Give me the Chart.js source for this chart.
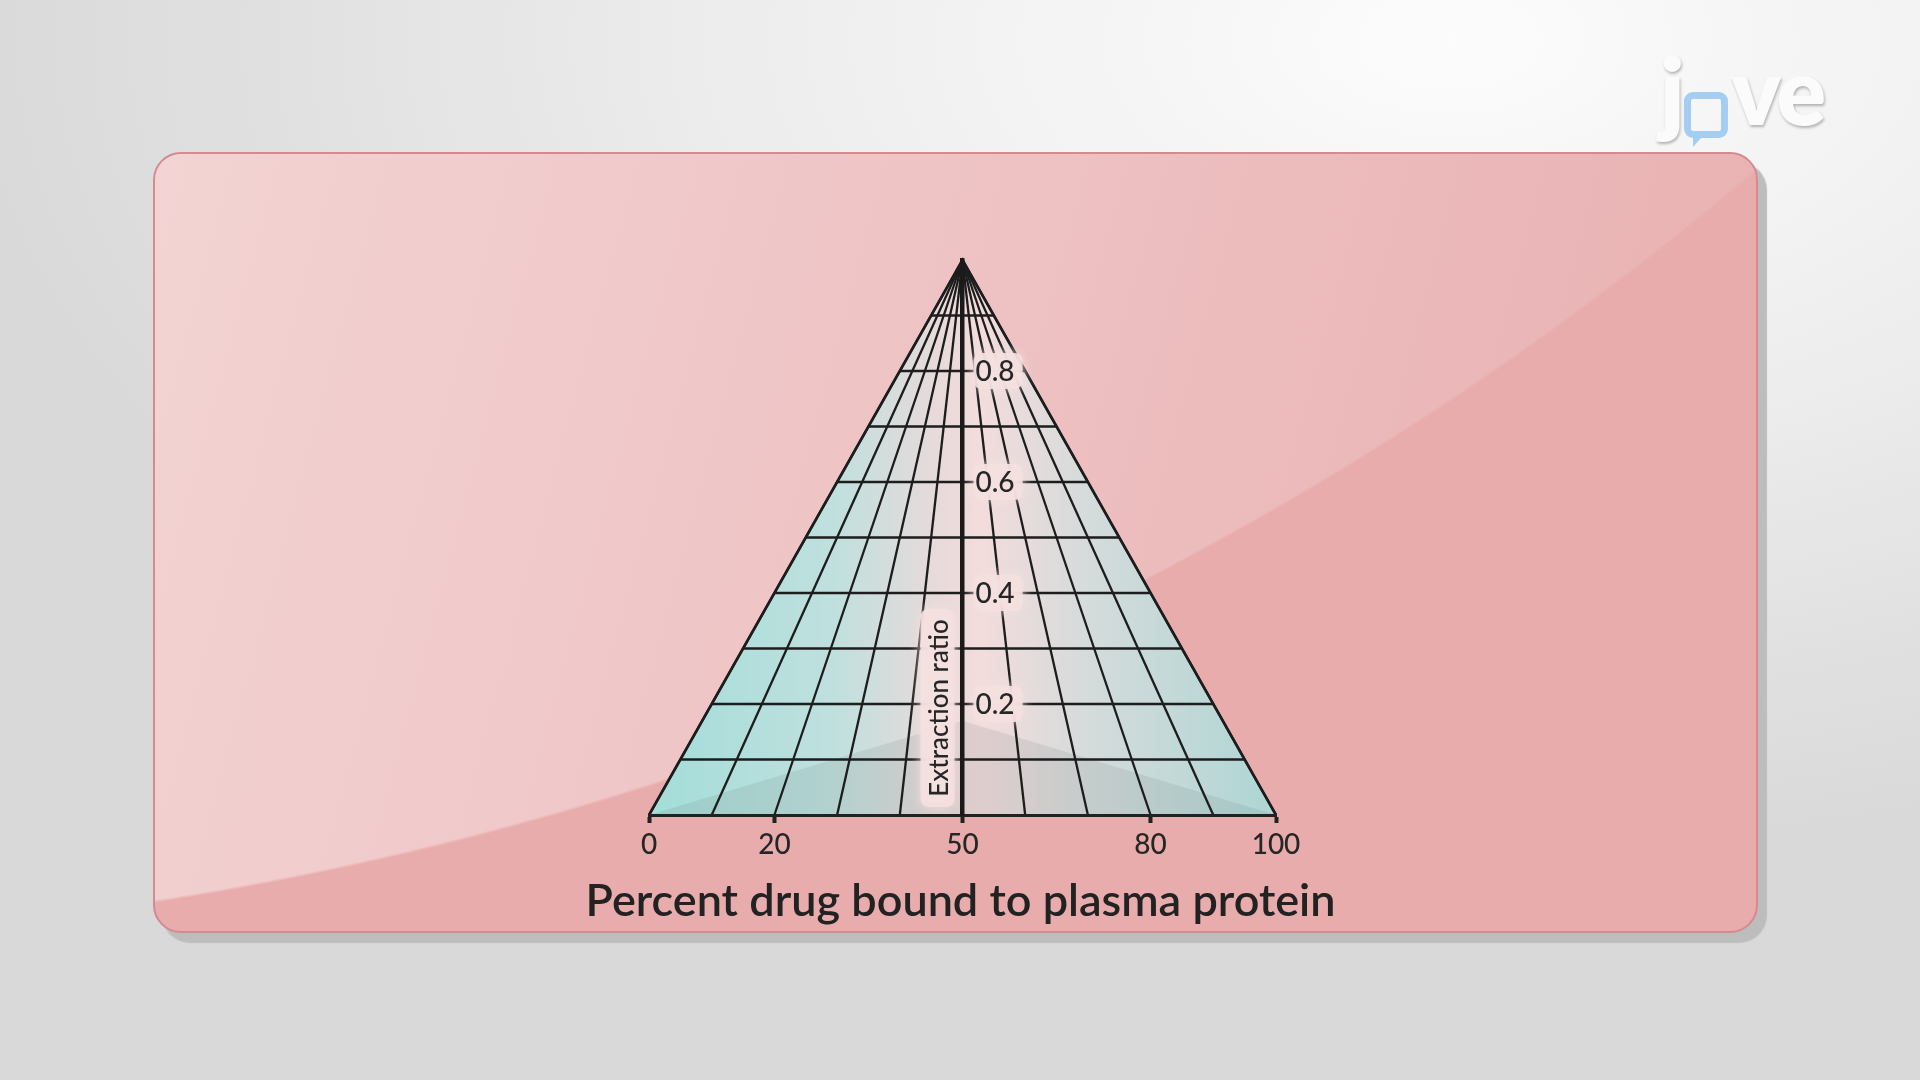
<!DOCTYPE html>
<html>
<head>
<meta charset="utf-8">
<title>Extraction ratio nomogram</title>
<script src="https://cdn.jsdelivr.net/npm/chart.js@4.4.1/dist/chart.umd.min.js"></script>
<style>
  html, body { margin: 0; padding: 0; }
  body {
    width: 1920px; height: 1080px; overflow: hidden; position: relative;
    background: radial-gradient(ellipse 1500px 820px at 1450px 40px, #fcfcfc 0%, #eeeeee 45%, #e0e0e0 80%, #d9d9d9 100%);
    font-family: Lato, sans-serif;
  }
  .card {
    position: absolute; left: 153px; top: 152px; width: 1601px; height: 777px;
    border: 2px solid #d38b8f; border-radius: 28px;
    background: #e8acac;
    box-shadow: 9px 10px 1px #bdbdbd;
    overflow: hidden;
  }
  .card::before {
    content: ''; position: absolute; inset: 0;
    background: linear-gradient(105deg, #f3d3d3 0%, #efc5c6 40%, #ebb7b8 75%, #e9b0b0 100%);
    -webkit-mask-image: radial-gradient(circle 3225px at -488px -2439px, #000 99.9%, transparent 100%);
  }
  .logo {
    position: absolute; left: 1660px; top: 34px;
    font: 800 92px Lato, sans-serif; color: #fbfbfb;
    text-shadow: 1px 2px 3px rgba(0,0,0,0.28); letter-spacing: -3px;
  }
  .logo .o {
    display: inline-block; position: relative; width: 30px; height: 32px; margin: 0 4px 0 2px;
    border: 7px solid #a4cdf1; border-radius: 9px; color: transparent; text-shadow: none;
    font-size: 30px; line-height: 32px; vertical-align: -2px;
  }
  .logo .o::after {
    content: ''; position: absolute; left: 2px; bottom: -16px;
    border-left: 9px solid #a4cdf1; border-bottom: 10px solid transparent;
  }
  canvas { position: absolute; left: 0; top: 0; }
</style>
</head>
<body>
<div class="card"></div>
<div class="logo">j<span class="o">o</span>ve</div>
<canvas id="nomogram" width="1920" height="1080"></canvas>
<script>
// ---- data ----
const axisTicks = [0, 20, 50, 80, 100];              // percent bound labels on the base
const baseLines = [0, 10, 20, 30, 40, 60, 70, 80, 90, 100]; // radial lines from the base
const ratioLevels = [0.1, 0.2, 0.3, 0.4, 0.5, 0.6, 0.7, 0.8, 0.9];
const ratioTicks = [0.2, 0.4, 0.6, 0.8];
const apexPoint = { x: 50, y: 1 };
const shadeTop = 0.17;
const xTitle = 'Percent drug bound to plasma protein';
const yTitle = 'Extraction ratio';

// triangle edges at a given extraction ratio level
function edgeAt(level) {
    return [{ x: 50 * level, y: level }, { x: 100 - 50 * level, y: level }];
}

const LINE = '#1d1d1d';

function triangleGradient(context) {
    const { chart } = context;
    const area = chart.chartArea;
    if (!area) return null;
    const g = chart.ctx.createLinearGradient(area.left, 0, area.right, 0);
    g.addColorStop(0, '#a3ddd9');
    g.addColorStop(0.3, '#c0e0de');
    g.addColorStop(0.46, '#e8dada');
    g.addColorStop(0.53, '#f3dcdc');
    g.addColorStop(0.7, '#d5dbdb');
    g.addColorStop(1, '#add6d4');
    return g;
}

const datasets = [];

// filled triangle
datasets.push({
    data: [{ x: 0, y: 0 }, apexPoint, { x: 100, y: 0 }],
    showLine: true, pointRadius: 0, borderWidth: 0,
    fill: 'origin', backgroundColor: triangleGradient, order: 10
});

// darker shading at the bottom
datasets.push({
    data: [{ x: 0, y: 0 }, { x: 50, y: shadeTop }, { x: 100, y: 0 }],
    showLine: true, pointRadius: 0, borderWidth: 0,
    fill: 'origin', backgroundColor: 'rgba(95,105,105,0.13)', order: 9
});

// horizontal lines
ratioLevels.forEach(level => {
    datasets.push({
        data: edgeAt(level), showLine: true, pointRadius: 0,
        borderColor: LINE, borderWidth: 2.3, fill: false, order: 5
    });
});

// radial lines to the apex
baseLines.forEach(b => {
    datasets.push({
        data: [{ x: b, y: 0 }, apexPoint], showLine: true, pointRadius: 0,
        borderColor: LINE, borderWidth: 2.3, fill: false, order: 4
    });
});

// outline
datasets.push({
    data: [{ x: 0, y: 0 }, apexPoint, { x: 100, y: 0 }],
    showLine: true, pointRadius: 0, borderColor: LINE, borderWidth: 2.6,
    fill: false, order: 1
});

function roundRect(ctx, x, y, w, h, r) {
    ctx.beginPath();
    ctx.moveTo(x + r, y);
    ctx.arcTo(x + w, y, x + w, y + h, r);
    ctx.arcTo(x + w, y + h, x, y + h, r);
    ctx.arcTo(x, y + h, x, y, r);
    ctx.arcTo(x, y, x + w, y, r);
    ctx.closePath();
}

// labels on the central axis + axis title (wider than the plot, so drawn here)
const centerAxisLabels = {
    id: 'centerAxisLabels',
    afterDatasetsDraw(chart) {
        const { ctx, scales: { x, y } } = chart;
        const ax = x.getPixelForValue(50);
        const base = y.getPixelForValue(0);
        ctx.save();
        ctx.font = '500 28px Lato';
        ctx.textBaseline = 'middle';

        // soft backdrops
        ctx.fillStyle = 'rgba(245,224,224,0.9)';
        ctx.shadowColor = 'rgba(245,224,224,1)';
        ctx.shadowBlur = 12;
        ratioTicks.forEach(v => {
            const py = y.getPixelForValue(v);
            const w = ctx.measureText(v.toFixed(1)).width;
            roundRect(ctx, ax + 11, py - 18, w + 10, 36, 8);
            ctx.fill();
        });
        roundRect(ctx, ax - 42, base - 206, 34, 198, 8);
        ctx.fill();
        ctx.shadowBlur = 0;

        // text
        ctx.fillStyle = '#262626';
        ctx.textAlign = 'left';
        ratioTicks.forEach(v => {
            ctx.fillText(v.toFixed(1), ax + 13, y.getPixelForValue(v) + 1);
        });

        // x axis title
        ctx.textAlign = 'center';
        ctx.fillStyle = '#222';
        ctx.font = '600 45px Lato';
        ctx.fillText(xTitle, ax - 2, base + 86);

        ctx.translate(ax - 24, base - 107);
        ctx.rotate(-Math.PI / 2);
        ctx.fillStyle = '#262626';
        ctx.font = '500 26px Lato';
        ctx.fillText(yTitle, 0, 1);
        ctx.restore();
    }
};

Chart.defaults.font.family = 'Lato';

new Chart(document.getElementById('nomogram'), {
    type: 'scatter',
    data: { datasets: datasets.map(d => Object.assign({ clip: false }, d)) },
    plugins: [centerAxisLabels],
    options: {
        responsive: false,
        devicePixelRatio: 1,
        animation: false,
        events: [],
        layout: { padding: { left: 649, right: 644, top: 260, bottom: 155 } },
        plugins: { legend: { display: false }, tooltip: { enabled: false } },
        scales: {
            x: {
                type: 'linear', min: 0, max: 100,
                afterBuildTicks: s => { s.ticks = axisTicks.map(v => ({ value: v })); },
                afterFit: s => { s.height = 110; },
                grid: {
                    display: true, drawOnChartArea: false, drawTicks: true,
                    tickLength: 8, tickWidth: 4, tickColor: '#222'
                },
                border: { display: true, color: '#222', width: 3, z: 1 },
                ticks: {
                    color: '#262626', font: { size: 28, weight: 500 },
                    padding: 5, maxRotation: 0, autoSkip: false
                },
                title: { display: false }
            },
            y: {
                type: 'linear', min: 0, max: 1,
                position: { x: 50 },
                grid: { display: false },
                ticks: { display: false },
                border: { display: true, color: '#1a1a1a', width: 4.5, z: 1 }
            }
        }
    }
});
</script>
</body>
</html>
